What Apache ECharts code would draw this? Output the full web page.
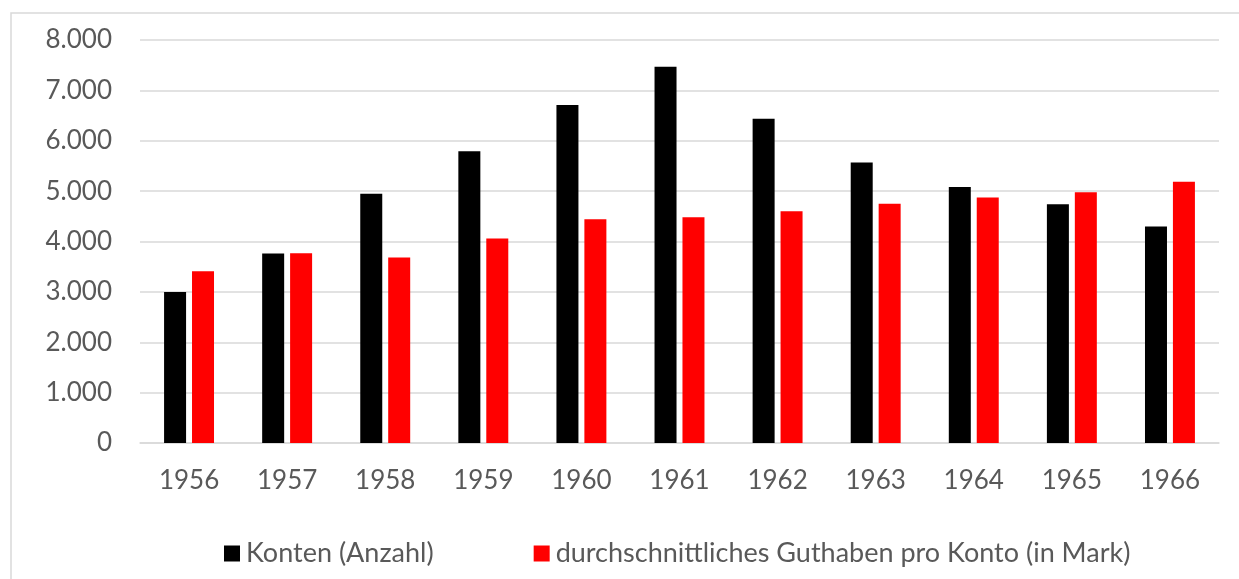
<!DOCTYPE html>
<html>
<head>
<meta charset="utf-8">
<script src="https://cdn.jsdelivr.net/npm/echarts@6/dist/echarts.min.js"></script>
<style>
  html, body { margin: 0; padding: 0; background: #fff; }
  #main { width: 1239px; height: 579px; }
</style>
</head>
<body>
<div id="main"></div>
<script>
// Jahre (x-Achse)
var years = ['1956', '1957', '1958', '1959', '1960', '1961', '1962', '1963', '1964', '1965', '1966']
// Konten (Anzahl)
var konten = [3000, 3760, 4950, 5790, 6710, 7470, 6435, 5570, 5080, 4740, 4300]
// durchschnittliches Guthaben pro Konto (in Mark)
var guthaben = [3410, 3765, 3680, 4060, 4440, 4480, 4600, 4750, 4875, 4980, 5185]
var seriesNames = ['Konten (Anzahl)', 'durchschnittliches Guthaben pro Konto (in Mark)']

var textColor = '#595959'
var gridColor = '#d9d9d9'
var font = 'Lato'

// Tausenderpunkt wie in der Vorlage: 8.000
function fmt(v) {
    return String(v).replace(/\B(?=(\d{3})+(?!\d))/g, '.')
}

var myChart = echarts.init(document.getElementById('main'))

var option = {
    animation: false,
    graphic: [
        {
            // heller Rahmen links und oben
            type: 'rect',
            left: 8.5,
            top: 10.5,
            shape: { width: 1260, height: 600 },
            style: { fill: 'none', stroke: gridColor, lineWidth: 1.5 },
            silent: true
        }
    ],
    legend: {
        data: seriesNames,
        left: 219,
        top: 535,
        itemWidth: 16,
        itemHeight: 16,
        itemGap: 100,
        icon: 'rect',
        textStyle: { color: textColor, fontSize: 27, fontFamily: font, padding: [0, 0, 0, 1] }
    },
    grid: {
        left: 140,
        right: 20,
        top: 40,
        bottom: 136
    },
    xAxis: {
        type: 'category',
        data: years,
        axisLine: { lineStyle: { color: gridColor, width: 1.5 } },
        axisTick: { show: false },
        axisLabel: { color: textColor, fontSize: 26, fontFamily: font, margin: 25 }
    },
    yAxis: {
        type: 'value',
        min: 0,
        max: 8000,
        interval: 1000,
        axisLine: { show: false },
        axisTick: { show: false },
        splitLine: { lineStyle: { color: gridColor, width: 1.5 } },
        axisLabel: { color: textColor, fontSize: 26, fontFamily: font, margin: 28, formatter: fmt }
    },
    series: [
        {
            name: seriesNames[0],
            type: 'bar',
            data: konten,
            barWidth: 22,
            barGap: '27%',
            itemStyle: { color: '#000000' }
        },
        {
            name: seriesNames[1],
            type: 'bar',
            data: guthaben,
            barWidth: 22,
            itemStyle: { color: '#ff0000' }
        }
    ]
}

myChart.setOption(option)
</script>
</body>
</html>
